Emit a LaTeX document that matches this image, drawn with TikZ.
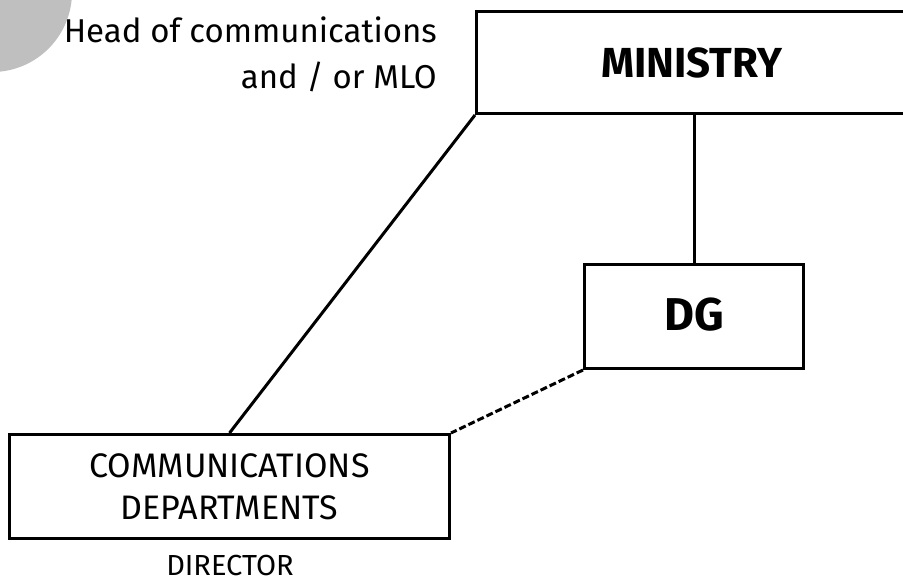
\documentclass[tikz,border=0pt]{standalone}
\usepackage{fontspec}
\setmainfont{Fira Sans}
\begin{document}
\begin{tikzpicture}[x=1pt,y=-1pt,
  box/.style={draw, line width=3pt, inner sep=0pt, anchor=north west},
  conn/.style={line width=3pt},
  dconn/.style={line width=3pt, dash pattern=on 7pt off 3pt},
  lbl/.style={inner sep=0pt}]
\clip (0,0) rectangle (903,581);
\fill[white] (0,0) rectangle (903,581);
\fill[gray!50] (-8,-8) circle (80);
\node[box, minimum width=430pt, minimum height=102pt, font=\bfseries\fontsize{42}{42}\selectfont] (ministry) at (475,10) {MINISTRY};
\node[box, minimum width=219pt, minimum height=104pt, font=\bfseries\fontsize{46}{46}\selectfont] (dg) at (583,263) {\raisebox{5pt}{DG}};
\node[box, minimum width=440pt, minimum height=104pt, align=center, font=\fontsize{34}{42}\selectfont] (comm) at (8,433) {COMMUNICATIONS\\DEPARTMENTS};
\node[lbl, anchor=base, font=\fontsize{29}{29}\selectfont] (dir) at (230,575) {DIRECTOR};
\node[lbl, anchor=base east, font=\fontsize{33}{33}\selectfont] (head1) at (437,42) {Head of communications};
\node[lbl, anchor=base east, font=\fontsize{33}{33}\selectfont] (head2) at (437,88) {and / or MLO};
\draw[conn] (ministry.south west) -- (comm.north);
\draw[conn] (dg.north) -- (dg.north |- ministry.south);
\draw[dconn] (dg.south west) -- (comm.north east);
\end{tikzpicture}
\end{document}
